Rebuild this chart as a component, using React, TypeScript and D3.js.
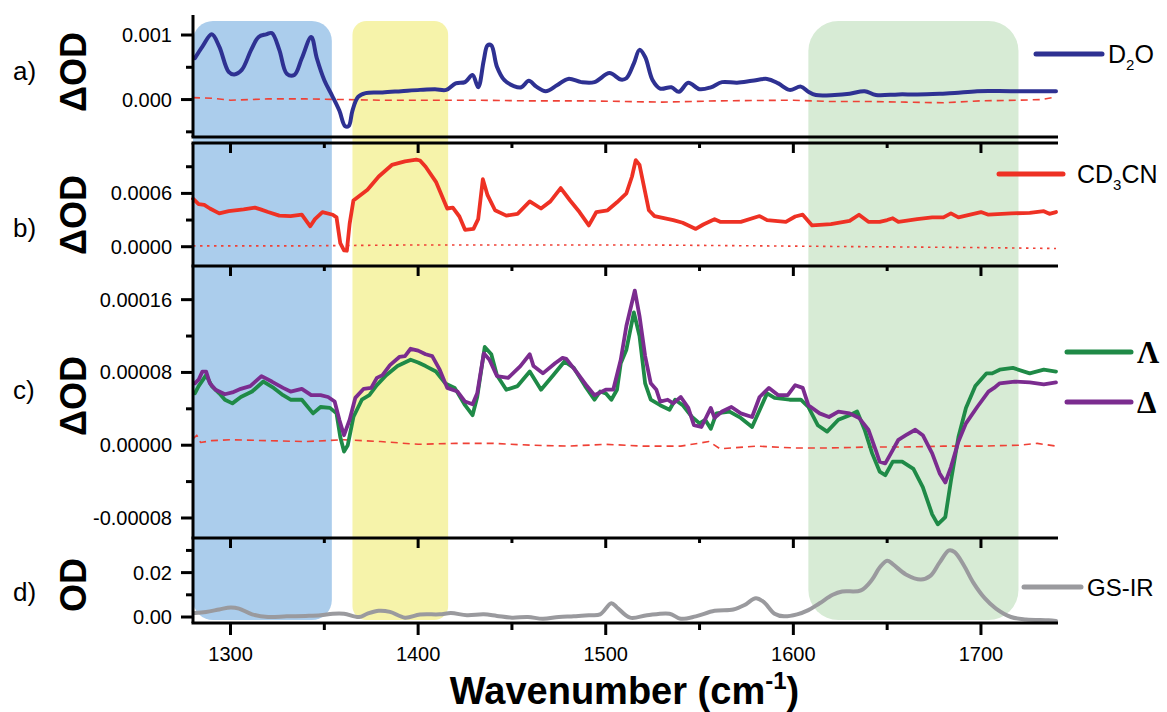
import React from 'react';
import * as d3 from 'd3';

type Pt = [number, number];

const xDomain: [number, number] = [1280, 1740];
const xMajorTicks = [1300, 1400, 1500, 1600, 1700];
const xMinorTicks = [1350, 1450, 1550, 1650];

const d2o: Pt[] = [[1281,0.00064],[1285,0.00082],[1290,0.00101],[1294,0.00082],[1299,0.00043],[1302,0.00039],[1306,0.00046],[1311,0.00077],[1315,0.00097],[1319,0.00101],[1322,0.00103],[1326,0.00077],[1330,0.00040],[1334,0.00038],[1338,0.00064],[1343,0.00097],[1346,0.00064],[1350,0.00030],[1354,0.00007],[1358,-0.00017],[1361,-0.00041],[1363,-0.00041],[1365,-0.00017],[1368,0.00004],[1372,0.00010],[1381,0.00011],[1391,0.00013],[1401,0.00015],[1409,0.00016],[1415,0.00015],[1420,0.00025],[1425,0.00027],[1429,0.00038],[1432,0.00019],[1435,0.00061],[1437,0.00084],[1439,0.00084],[1442,0.00051],[1446,0.00030],[1451,0.00021],[1455,0.00019],[1459,0.00029],[1463,0.00020],[1468,0.00013],[1474,0.00022],[1480,0.00032],[1487,0.00027],[1494,0.00027],[1502,0.00041],[1508,0.00031],[1511,0.00033],[1515,0.00056],[1518,0.00077],[1521,0.00066],[1525,0.00030],[1529,0.00017],[1535,0.00019],[1539,0.00012],[1544,0.00026],[1550,0.00016],[1556,0.00019],[1562,0.00027],[1570,0.00026],[1578,0.00029],[1586,0.00032],[1592,0.00025],[1598,0.00015],[1604,0.00020],[1608,0.00012],[1612,0.00007],[1622,0.00007],[1630,0.00009],[1638,0.00013],[1644,0.00007],[1656,0.00008],[1666,0.00008],[1678,0.00009],[1686,0.00010],[1698,0.00013],[1716,0.00013],[1740,0.00013]];

const d2oBase: Pt[] = [[1280,0.00003],[1290,0.00002],[1300,-0.00001],[1320,0.00001],[1340,0.00001],[1360,0.0],[1380,-0.00001],[1400,-0.00001],[1430,-0.00001],[1460,-0.00002],[1490,-0.00002],[1510,-0.00003],[1530,-0.00004],[1560,-0.00002],[1600,-0.00001],[1620,-0.00003],[1640,-0.00003],[1660,-0.00004],[1680,-0.00005],[1700,-0.00002],[1720,-0.00001],[1732,0.0],[1740,0.00004]];

const cd3cn: Pt[] = [[1280,0.00054],[1283,0.00048],[1286,0.00047],[1289,0.00043],[1294,0.000375],[1299,0.0004],[1307,0.00042],[1313,0.00044],[1316,0.00042],[1320,0.00039],[1326,0.00035],[1332,0.000345],[1338,0.00036],[1342.5,0.00023],[1345,0.00031],[1349,0.00039],[1354.5,0.00036],[1356.5,0.00033],[1358.5,0.00004],[1360.5,-0.00004],[1362,-0.000045],[1363.5,0.00026],[1365.5,0.00052],[1373,0.00064],[1379,0.00079],[1386,0.00092],[1393,0.00096],[1399,0.00098],[1401,0.00097],[1404,0.0009],[1409.5,0.00073],[1415.5,0.00043],[1418.5,0.00044],[1422,0.00034],[1425,0.00019],[1429.5,0.0002],[1432,0.00031],[1434.5,0.00076],[1437,0.00058],[1441,0.00041],[1447,0.00035],[1453,0.00037],[1459.5,0.00051],[1465.5,0.00043],[1470.5,0.00051],[1476,0.00066],[1481,0.00052],[1486,0.00039],[1491,0.00024],[1495,0.00039],[1501,0.00041],[1506,0.0005],[1511,0.0006],[1514,0.00079],[1516,0.000975],[1518,0.00092],[1523,0.00041],[1526,0.000345],[1536,0.0003],[1541,0.00027],[1548,0.0002],[1552,0.00025],[1558,0.00031],[1561,0.00028],[1572,0.00028],[1582,0.000345],[1586,0.0003],[1596,0.00028],[1601,0.00034],[1605,0.00036],[1610,0.00024],[1620,0.000255],[1630,0.00029],[1635,0.00036],[1640,0.00028],[1646,0.00028],[1650,0.0003],[1653,0.00032],[1656,0.00028],[1666,0.00031],[1674,0.00033],[1680,0.00033],[1684,0.000375],[1688,0.00033],[1700,0.00039],[1704,0.00036],[1716,0.000375],[1726,0.00038],[1733.5,0.0004],[1736.5,0.00037],[1740,0.00039]];

const cd3cnBase: Pt[] = [[1280,0.00001],[1340,0.00001],[1400,0.00002],[1460,0.00002],[1520,0.00002],[1580,0.00001],[1640,0.0],[1700,-0.00001],[1740,-0.00002]];

const lambda: Pt[] = [[1281,0.000057],[1283,0.000065],[1287,0.000077],[1290,0.000065],[1294,0.000057],[1297,0.00005],[1301,0.000046],[1305.5,0.000053],[1311.5,0.000059],[1317.5,0.00007],[1323,0.000063],[1328,0.000055],[1332,0.00005],[1338,0.00005],[1344,0.000035],[1348,0.000042],[1353,0.000041],[1356.5,0.000035],[1358.5,0.000009],[1360.5,-0.000007],[1362.5,0.0],[1365.5,0.000031],[1370,0.00005],[1374,0.000055],[1378,0.000066],[1383,0.000077],[1389,0.000087],[1396,0.000094],[1400,0.000091],[1404,0.000087],[1409.5,0.000081],[1414.5,0.000068],[1419.5,0.000063],[1425,0.000044],[1429,0.000033],[1431.5,0.000053],[1435.5,0.000108],[1439,0.0001],[1442,0.000077],[1447,0.000061],[1453,0.000065],[1459.5,0.000081],[1465.5,0.000061],[1472,0.000077],[1478,0.000092],[1483,0.000085],[1489,0.000065],[1494,0.00005],[1497,0.000059],[1500,0.000057],[1503,0.00005],[1506,0.000061],[1508,0.00009],[1511,0.000105],[1515,0.000146],[1518,0.00012],[1521,0.000068],[1524,0.00005],[1529,0.000044],[1534,0.000039],[1537,0.00005],[1541,0.000044],[1546,0.000031],[1550,0.000024],[1553,0.000028],[1556,0.000018],[1559,0.000035],[1566,0.000037],[1572,0.00003],[1578,0.00002],[1586,0.000057],[1590,0.000052],[1598,0.00005],[1604,0.00005],[1608,0.000042],[1613,0.000022],[1618,0.000015],[1624,0.000028],[1630,0.000033],[1634,0.000037],[1638,0.000017],[1642,-0.000009],[1646,-0.000029],[1649,-0.000033],[1653,-0.000018],[1658,-0.000018],[1664,-0.000026],[1669,-0.000046],[1674,-0.000076],[1677,-0.000087],[1681,-0.000079],[1684,-0.000039],[1688,0.000009],[1692,0.000041],[1697,0.000065],[1703,0.000079],[1706,0.000079],[1710,0.000083],[1717,0.000085],[1726,0.000079],[1733.5,0.000083],[1740,0.000081]];

const delta: Pt[] = [[1281,0.000068],[1283,0.000072],[1285,0.000081],[1287,0.000081],[1289,0.000068],[1292,0.000061],[1297,0.000056],[1301,0.000058],[1305.5,0.000062],[1310.5,0.000065],[1316.5,0.000076],[1322,0.00007],[1328,0.000063],[1332,0.000059],[1338,0.000062],[1343,0.000055],[1348,0.000055],[1352,0.000053],[1355.5,0.000048],[1358,0.000028],[1360.5,0.000011],[1363.5,0.000028],[1366.5,0.000052],[1371,0.000062],[1375,0.000063],[1378,0.000074],[1381,0.000077],[1385,0.000088],[1390,0.000097],[1393,0.000098],[1396,0.000106],[1400,0.000104],[1404,0.0001],[1407.5,0.000098],[1411.5,0.000083],[1415.5,0.000063],[1421,0.000059],[1425,0.000048],[1429,0.000045],[1431.5,0.000057],[1435,0.000101],[1438,0.000094],[1442,0.000076],[1448,0.000074],[1454.5,0.000087],[1459.5,0.0001],[1461.5,0.000087],[1466.5,0.000079],[1473,0.00009],[1477,0.000096],[1479,0.000095],[1485,0.000079],[1490,0.000065],[1494,0.000055],[1500,0.000061],[1504,0.000061],[1508,0.000094],[1511,0.000131],[1515.5,0.00017],[1518,0.000142],[1521,0.000098],[1524,0.000068],[1527,0.000061],[1529,0.000048],[1533,0.00005],[1536,0.000046],[1540,0.000053],[1544,0.000041],[1547,0.000022],[1551,0.00002],[1556,0.000041],[1558,0.00003],[1562,0.000037],[1567,0.000042],[1572,0.000035],[1578,0.000031],[1582,0.000053],[1587,0.000063],[1592,0.000055],[1597,0.000055],[1601,0.000066],[1605,0.000063],[1608,0.000044],[1614,0.000035],[1619,0.000031],[1624,0.000037],[1630,0.000035],[1635,0.00003],[1640,0.000017],[1644,-0.000006],[1646,-0.000018],[1649,-0.00002],[1652,-0.000009],[1656,0.000006],[1660,0.000011],[1665,0.000017],[1669,0.000011],[1674,-0.000009],[1678,-0.000031],[1681,-0.000041],[1684,-0.000024],[1688,0.000004],[1692,0.000024],[1698,0.000042],[1704,0.000059],[1707,0.000063],[1710,0.000068],[1718,0.00007],[1726,0.000069],[1733.5,0.000067],[1740,0.000069]];

const chiralBase: Pt[] = [[1280,0.000007],[1282,0.000011],[1284,0.000003],[1290,0.000005],[1300,0.000006],[1320,0.000005],[1340,0.000004],[1360,0.000006],[1380,0.000004],[1400,0.000001],[1420,0.000002],[1440,0.000002],[1460,0.0],[1480,-0.000001],[1500,0.000001],[1520,-0.000001],[1540,-0.000001],[1555,0.000004],[1561,-0.000004],[1580,-0.000001],[1600,-0.000003],[1620,-0.000003],[1640,-0.000002],[1660,-0.000002],[1680,-0.000001],[1700,-0.000001],[1720,0.0],[1730,0.000002],[1740,-0.000001]];

const gsir: Pt[] = [[1281,0.0018],[1287,0.0023],[1294,0.0034],[1300,0.0043],[1304.5,0.0038],[1311.5,0.0012],[1320,0.0],[1330,0.0003],[1340,0.0005],[1348,0.0008],[1354.5,0.0015],[1360.5,0.0015],[1368.5,0.0],[1373,0.0015],[1379,0.0028],[1385,0.0023],[1393,-0.0003],[1401,0.0011],[1411.5,0.0012],[1417.5,0.0018],[1426,0.0008],[1435,0.0012],[1442,0.0005],[1450,-0.0003],[1458.5,0.0],[1466.5,-0.0008],[1475,0.0],[1483,0.0003],[1491,0.0008],[1497,0.0012],[1503,0.0062],[1506,0.0043],[1513,-0.0003],[1522,0.0008],[1534,0.0015],[1540,-0.0008],[1548,0.0003],[1558,0.0028],[1568,0.0034],[1574,0.0054],[1580,0.0085],[1584,0.0069],[1590,0.0015],[1595,0.0003],[1602,0.0012],[1608,0.0031],[1614,0.0062],[1621,0.01],[1626,0.0115],[1636,0.012],[1642,0.0169],[1646,0.0223],[1650,0.0254],[1653,0.0238],[1660,0.0192],[1668,0.0169],[1673,0.0185],[1678,0.0246],[1683,0.03],[1686,0.0292],[1691,0.0231],[1696,0.0154],[1702,0.0085],[1708,0.0038],[1716,0.0],[1724,-0.0011],[1736,-0.0015],[1740,-0.0018]];

// shaded regions [from, to] in wavenumber
const regionBlue: [number, number] = [1280, 1354];
const regionYellow: [number, number] = [1365, 1416];
const regionGreen: [number, number] = [1608, 1720];

const panelLabels = ['a)', 'b)', 'c)', 'd)'];
const panelYTitles = ['ΔOD', 'ΔOD', 'ΔOD', 'OD'];
const panelDomains: [number, number][] = [[-0.00058, 0.00131], [-0.000217, 0.001167], [-0.000102, 0.000197], [-0.0027, 0.0356]];
const panelMajorTicks = [[0, 0.001], [0, 0.0006], [-0.00008, 0, 0.00008, 0.00016], [0, 0.02]];
const panelMinorTicks = [[-0.0005, 0.0005], [0.0003, 0.0009], [-0.00004, 0.00004, 0.00012], [0.01, 0.03]];
const panelDigits = [3, 4, 5, 2];

// layout (pixels)
const W = 1167, H = 712;
const X0 = 193, X1 = 1056;
const panelTop = [15, 143, 266, 538];
const panelBottom = [137, 266, 538, 623];
const panelLabelY = [80, 237, 399, 601];
const panelTitleY = [72, 215, 396, 585];

const FONT = "'Liberation Sans', Arial, Helvetica, sans-serif";
const SERIF = "'Liberation Serif', 'Times New Roman', serif";

const C = {
  d2o: '#2e3192',
  cd3cn: '#ee3124',
  lambda: '#1f8a47',
  delta: '#7b2c8f',
  gsir: '#9a9a9e',
  base: '#ef4136',
  blue: '#abcdec',
  yellow: '#f6f3aa',
  green: '#d7ebd5',
};

export default function App() {
  const x = d3.scaleLinear().domain(xDomain).range([X0, X1]);
  const ys = panelDomains.map((dom, i) => d3.scaleLinear().domain(dom).range([panelBottom[i], panelTop[i]]));

  const mkLine = (i: number, curve: d3.CurveFactory = d3.curveLinear) =>
    d3.line<Pt>().x(d => x(d[0])).y(d => ys[i](d[1])).curve(curve);

  const series = [
    { data: d2oBase, p: 0, color: C.base, w: 1.6, dash: '7 5', curve: d3.curveLinear },
    { data: d2o, p: 0, color: C.d2o, w: 4, dash: undefined, curve: d3.curveCatmullRom.alpha(0.5) },
    { data: cd3cnBase, p: 1, color: C.base, w: 1.6, dash: '2.5 4.5', curve: d3.curveLinear },
    { data: cd3cn, p: 1, color: C.cd3cn, w: 3.8, dash: undefined, curve: d3.curveLinear },
    { data: chiralBase, p: 2, color: C.base, w: 1.6, dash: '7 5', curve: d3.curveLinear },
    { data: lambda, p: 2, color: C.lambda, w: 3.8, dash: undefined, curve: d3.curveLinear },
    { data: delta, p: 2, color: C.delta, w: 3.8, dash: undefined, curve: d3.curveLinear },
    { data: gsir, p: 3, color: C.gsir, w: 4, dash: undefined, curve: d3.curveCatmullRom.alpha(0.5) },
  ];

  const regions = [
    { r: regionBlue, fill: C.blue, rx: 20 },
    { r: regionYellow, fill: C.yellow, rx: 14 },
    { r: regionGreen, fill: C.green, rx: 30 },
  ];
  const regTop = 21, regBottom = 620;

  const legend = [
    { color: C.d2o, x1: 1036, x2: 1102, y: 54, tx: 1108, kind: 'd2o' },
    { color: C.cd3cn, x1: 999, x2: 1063, y: 174, tx: 1077, kind: 'cd3cn' },
    { color: C.lambda, x1: 1067, x2: 1131, y: 352, tx: 1137, kind: 'lambda' },
    { color: C.delta, x1: 1067, x2: 1131, y: 402, tx: 1137, kind: 'delta' },
    { color: C.gsir, x1: 1024, x2: 1081, y: 587, tx: 1087, kind: 'gsir' },
  ];

  const hLines: { y: number; mode: number }[] = [
    { y: panelBottom[0], mode: 0 },
    { y: panelTop[1], mode: 1 },
    { y: panelTop[2], mode: 1 },
    { y: panelTop[3], mode: 1 },
    { y: panelBottom[3], mode: 2 },
  ];

  return (
    <svg width={W} height={H} viewBox={`0 0 ${W} ${H}`} style={{ position: 'absolute', left: 0, top: 0, background: '#fff' }} fontFamily={FONT}>
      <rect x={0} y={0} width={W} height={H} fill="#fff" />
      {regions.map((g, i) => (
        <rect key={i} x={x(g.r[0])} y={regTop} width={x(g.r[1]) - x(g.r[0])} height={regBottom - regTop} rx={g.rx} ry={g.rx} fill={g.fill} />
      ))}

      {series.map((s, i) => (
        <path key={i} d={mkLine(s.p, s.curve)(s.data) || ''} fill="none" stroke={s.color} strokeWidth={s.w}
          strokeDasharray={s.dash} strokeLinejoin="round" strokeLinecap={s.dash ? 'butt' : 'round'} />
      ))}

      {ys.map((y, i) => (
        <g key={'ax' + i}>
          <line x1={X0} x2={X0} y1={panelTop[i]} y2={panelBottom[i]} stroke="#000" strokeWidth={3} />
          {panelMajorTicks[i].map(t => (
            <g key={'M' + t}>
              <line x1={X0 - 12} x2={X0} y1={y(t)} y2={y(t)} stroke="#000" strokeWidth={3} />
              <text x={172} y={y(t) + 7} fontSize={20} textAnchor="end">{t.toFixed(panelDigits[i])}</text>
            </g>
          ))}
          {panelMinorTicks[i].map(t => (
            <line key={'m' + t} x1={X0 - 7} x2={X0} y1={y(t)} y2={y(t)} stroke="#000" strokeWidth={3} />
          ))}
          <text x={13} y={panelLabelY[i]} fontSize={26}>{panelLabels[i]}</text>
          <text transform={`translate(86,${panelTitleY[i]}) rotate(-90)`} fontSize={36} fontWeight="bold" textAnchor="middle">{panelYTitles[i]}</text>
        </g>
      ))}

      {hLines.map((h, i) => (
        <g key={'h' + i}>
          <line x1={X0 - 1.5} x2={X1 + 2} y1={h.y} y2={h.y} stroke="#000" strokeWidth={3} />
          {h.mode > 0 && xMajorTicks.map(t => (
            <line key={'M' + t} x1={x(t)} x2={x(t)} y1={h.y} y2={h.y + (h.mode === 1 ? 10 : 12)} stroke="#000" strokeWidth={3} />
          ))}
          {h.mode > 0 && xMinorTicks.map(t => (
            <line key={'m' + t} x1={x(t)} x2={x(t)} y1={h.y} y2={h.y + (h.mode === 1 ? 5 : 7)} stroke="#000" strokeWidth={3} />
          ))}
        </g>
      ))}

      {xMajorTicks.map(t => (
        <text key={'xl' + t} x={x(t)} y={661} fontSize={20} textAnchor="middle">{t}</text>
      ))}

      <text x={(X0 + X1) / 2} y={704} fontSize={38} fontWeight="bold" textAnchor="middle">
        Wavenumber (cm<tspan dy={-15} fontSize={24}>-1</tspan><tspan dy={15}>)</tspan>
      </text>

      {legend.map((l, i) => (
        <g key={'lg' + i}>
          <line x1={l.x1} x2={l.x2} y1={l.y} y2={l.y} stroke={l.color} strokeWidth={5} strokeLinecap="round" />
          {l.kind === 'd2o' && (
            <text x={l.tx} y={l.y + 9} fontSize={25}>D<tspan dy={7} fontSize={15}>2</tspan><tspan dy={-7}>O</tspan></text>
          )}
          {l.kind === 'cd3cn' && (
            <text x={l.tx} y={l.y + 9} fontSize={25}>CD<tspan dy={7} fontSize={15}>3</tspan><tspan dy={-7}>CN</tspan></text>
          )}
          {l.kind === 'lambda' && (
            <text x={l.tx} y={l.y + 11} fontSize={31} fontWeight="bold" fontFamily={SERIF}>Λ</text>
          )}
          {l.kind === 'delta' && (
            <text x={l.tx} y={l.y + 11} fontSize={31} fontWeight="bold" fontFamily={SERIF}>Δ</text>
          )}
          {l.kind === 'gsir' && (
            <text x={l.tx} y={l.y + 9} fontSize={24}>GS-IR</text>
          )}
        </g>
      ))}
    </svg>
  );
}
